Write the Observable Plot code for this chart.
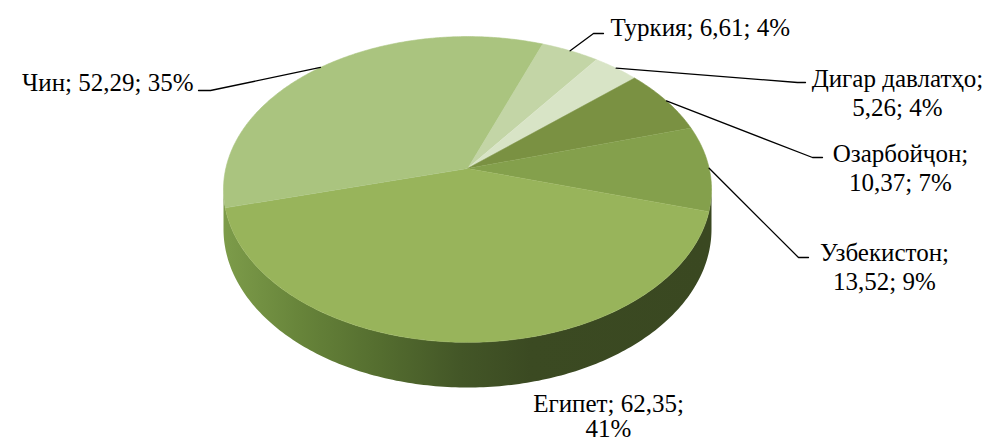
<!DOCTYPE html>
<html><head><meta charset="utf-8">
<script src="https://cdn.jsdelivr.net/npm/d3@7"></script>
<script src="https://cdn.jsdelivr.net/npm/@observablehq/plot@0.6"></script>
<style>
html,body{margin:0;padding:0;background:#fff}
svg text{font-family:"Liberation Serif","Tinos","Times New Roman","Noto Serif","DejaVu Serif","FreeSerif","Nimbus Roman","Nimbus Roman No9 L",serif !important;}
</style>
</head><body><div id="chart"></div>
<script>
// ---- data (clockwise order, starting after Чин) ----
const countries = ["Туркия", "Дигар давлатҳо", "Озарбойҷон", "Узбекистон", "Египет", "Чин"];
const values = [6.61, 5.26, 10.37, 13.52, 62.35, 52.29];
const valueLabels = ["6,61", "5,26", "10,37", "13,52", "62,35", "52,29"];
const percentLabels = ["4%", "4%", "7%", "9%", "41%", "35%"];

// ---- styles ----
const topColors = ["#c3d5a6", "#d8e4c6", "#7a9142", "#84a04c", "#98b45b", "#aac47f"];
const sideStops = [
  {x: 222, c: "#7d9c4a"}, {x: 300, c: "#67843a"}, {x: 380, c: "#546d2f"},
  {x: 460, c: "#435627"}, {x: 530, c: "#3b4a22"}, {x: 708, c: "#3a4821"}
];

// ---- layout ----
const W = 992, H = 441;
const geo = {cx: 467, cy: 168, b: 241.7, a: 150, c: 0.137, g: 39, start: -69.5};
const labelLayout = [
  {x: 610, y: 26, anchor: "start", lh: 1.16, elbow: [593, 33], end: [603, 33]},
  {x: 897, y: 91.5, anchor: "middle", lh: 1.16, breakAfterName: true, elbow: [797, 82], end: [805, 82]},
  {x: 900, y: 167, anchor: "middle", lh: 1.16, breakAfterName: true, elbow: [812, 157], end: [822, 157]},
  {x: 884, y: 265.5, anchor: "middle", lh: 1.16, breakAfterName: true, elbow: [798, 257], end: [808, 257]},
  {x: 608, y: 415.5, anchor: "middle", lh: 1.0, breakAfterValue: true},
  {x: 193, y: 81, anchor: "end", lh: 1.16, elbow: [210, 90], end: [198, 90]}
];

// perspective projection of a point on the pie rim
function rim(phiDeg, bottom = false) {
  const p = phiDeg * Math.PI / 180, s = Math.sin(p), co = Math.cos(p);
  const w = 1 - geo.c * s;
  return {x: geo.cx + geo.b * co / w, y: geo.cy + (geo.a * s + (bottom ? geo.g : 0)) / w};
}

const total = d3.sum(values);
let acc = geo.start;
const slices = values.map((v, i) => {
  const a0 = acc, a1 = acc + v / total * 360;
  acc = a1;
  return {i, a0, a1};
});

// top faces
const topData = [];
slices.forEach(s => {
  topData.push({id: s.i, x: geo.cx, y: geo.cy, color: topColors[s.i]});
  const n = Math.max(4, Math.ceil((s.a1 - s.a0) / 0.5));
  for (let k = 0; k <= n; k++) {
    const p = rim(s.a0 + (s.a1 - s.a0) * k / n);
    topData.push({id: s.i, x: p.x, y: p.y, color: topColors[s.i]});
  }
});

// side wall (front, visible part) as one polygon
const phiR = Math.asin(geo.c) * 180 / Math.PI, phiL = 180 - phiR;
const sideData = [];
const nSide = 200;
for (let k = 0; k <= nSide; k++) sideData.push(rim(phiR + (phiL - phiR) * k / nSide));
for (let k = nSide; k >= 0; k--) sideData.push(rim(phiR + (phiL - phiR) * k / nSide, true));

// gradient definition for the side wall
function sideGradient(index, scales) {
  const ns = "http://www.w3.org/2000/svg";
  const defs = document.createElementNS(ns, "defs");
  const lg = document.createElementNS(ns, "linearGradient");
  lg.setAttribute("id", "sideGrad");
  lg.setAttribute("gradientUnits", "userSpaceOnUse");
  lg.setAttribute("x1", scales.x(sideStops[0].x));
  lg.setAttribute("x2", scales.x(sideStops[sideStops.length - 1].x));
  lg.setAttribute("y1", 0); lg.setAttribute("y2", 0);
  const x0 = sideStops[0].x, x1 = sideStops[sideStops.length - 1].x;
  sideStops.forEach(s => {
    const st = document.createElementNS(ns, "stop");
    st.setAttribute("offset", (s.x - x0) / (x1 - x0));
    st.setAttribute("stop-color", s.c);
    lg.appendChild(st);
  });
  defs.appendChild(lg);
  return defs;
}

// leader lines
const leaderData = [];
slices.forEach(s => {
  const L = labelLayout[s.i];
  if (!L.elbow) return;
  const p = rim((s.a0 + s.a1) / 2);
  leaderData.push({id: s.i, x: p.x, y: p.y});
  leaderData.push({id: s.i, x: L.elbow[0], y: L.elbow[1]});
  leaderData.push({id: s.i, x: L.end[0], y: L.end[1]});
});

// labels
const labelData = countries.map((c, i) => {
  const L = labelLayout[i];
  const text = c + (L.breakAfterName ? ";\n" : "; ") + valueLabels[i] + (L.breakAfterValue ? ";\n" : "; ") + percentLabels[i];
  return {x: L.x, y: L.y, text, anchor: L.anchor, lh: L.lh};
});

const font = {fontFamily: "'Liberation Serif', 'Tinos', 'Times New Roman', 'DejaVu Serif', serif", fontSize: 25, fill: "black", lineAnchor: "middle"};
const textMark = (anchor, lh) => Plot.text(labelData.filter(d => d.anchor === anchor && d.lh === lh),
  {x: "x", y: "y", text: "text", textAnchor: anchor, lineHeight: lh, ...font});

const chart = Plot.plot({
  width: W, height: H, margin: 0,
  x: {domain: [0, W], range: [0, W], axis: null},
  y: {domain: [0, H], range: [0, H], axis: null},
  color: {type: "identity"},
  style: {background: "white"},
  marks: [
    sideGradient,
    Plot.line(sideData, {x: "x", y: "y", fill: "url(#sideGrad)", stroke: "none", curve: "linear"}),
    Plot.line(topData, {x: "x", y: "y", z: "id", fill: "color", stroke: "color", strokeWidth: 0.6, curve: "linear"}),
    Plot.line(leaderData, {x: "x", y: "y", z: "id", stroke: "black", strokeWidth: 1.3, curve: "linear", strokeLinejoin: "miter"}),
    textMark("start", 1.16),
    textMark("middle", 1.16),
    textMark("middle", 1.0),
    textMark("end", 1.16)
  ]
});
document.getElementById("chart").appendChild(chart);
</script>
</body></html>
